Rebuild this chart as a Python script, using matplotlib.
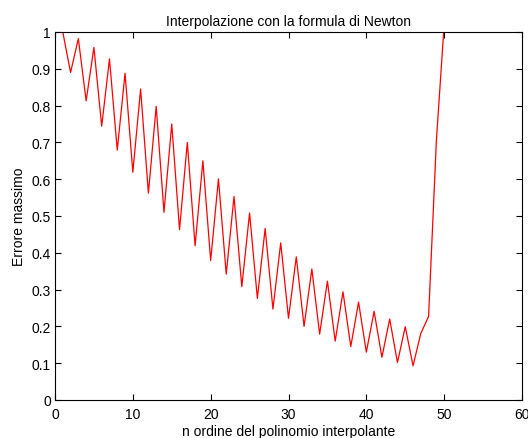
import numpy as np
import matplotlib
matplotlib.use('Agg')
import matplotlib.pyplot as plt

plt.rcParams['font.family'] = ['Liberation Sans', 'DejaVu Sans']

# polynomial order n and maximum error
n_order = list(range(1, 51))
max_err = [1.00, 0.890, 0.982, 0.813, 0.958, 0.744, 0.927, 0.679, 0.888, 0.619,
           0.845, 0.562, 0.798, 0.510, 0.750, 0.463, 0.700, 0.419, 0.650, 0.379,
           0.601, 0.342, 0.553, 0.308, 0.508, 0.276, 0.466, 0.247, 0.427, 0.222,
           0.389, 0.200, 0.356, 0.179, 0.323, 0.160, 0.294, 0.145, 0.266, 0.130,
           0.241, 0.116, 0.220, 0.102, 0.199, 0.093, 0.181, 0.227, 0.705, 1.02]

fig = plt.figure(figsize=(5.28, 4.39), dpi=100)
ax = fig.add_axes([55/528, 38/439, 467/528, 368/439])

ax.plot(n_order, max_err, color='red', linewidth=0.9)

ax.set_xlim(0, 60)
ax.set_ylim(0, 1)
ax.set_xticks(np.arange(0, 61, 10))
ax.set_yticks(np.round(np.arange(0, 1.01, 0.1), 1))
ax.set_yticklabels(['0', '0.1', '0.2', '0.3', '0.4', '0.5', '0.6', '0.7', '0.8', '0.9', '1'])
ax.tick_params(direction='in', top=True, right=True, labelsize=10, length=4, width=0.8, pad=3)
ax.tick_params(axis='x', pad=5)
for s in ax.spines.values():
    s.set_linewidth(0.8)

ax.set_title('Interpolazione con la formula di Newton', fontsize=10, pad=5)
ax.set_xlabel('n ordine del polinomio interpolante', fontsize=10, labelpad=2)
ax.set_ylabel('Errore massimo', fontsize=10, labelpad=4)

plt.savefig('out.png', dpi=100)
plt.close()
